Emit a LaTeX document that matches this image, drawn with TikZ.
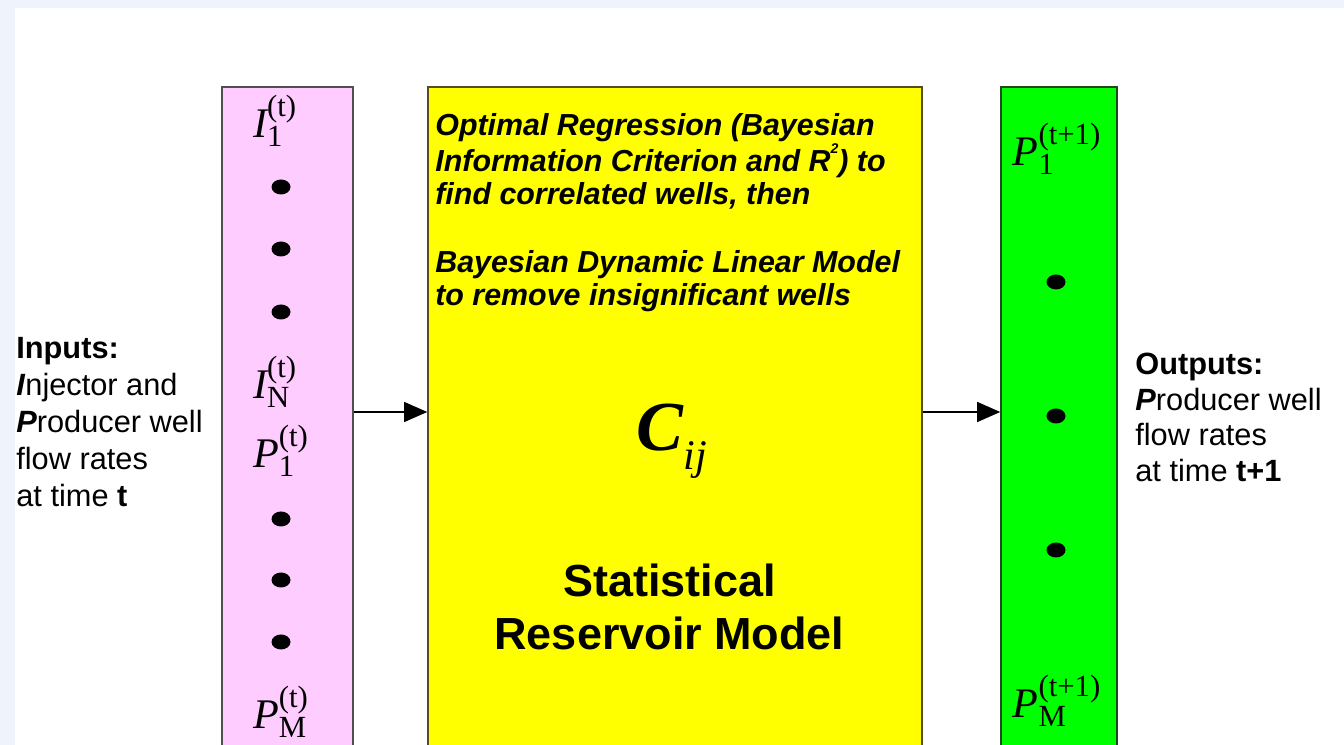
\RequirePackage{fix-cm}
\documentclass[tikz,border=0pt]{standalone}
\usepackage{fontspec}
\setmainfont{Liberation Serif}
\setsansfont{Liberation Sans}
\usetikzlibrary{arrows.meta}

\definecolor{pagebg}{HTML}{EEF3FC}
\definecolor{wellpink}{HTML}{FFCCFF}
\definecolor{pinkedge}{HTML}{505050}
\definecolor{modelyellow}{HTML}{FFFF00}
\definecolor{yellowedge}{HTML}{5A4A20}
\definecolor{wellgreen}{HTML}{00FF00}
\definecolor{greenedge}{HTML}{1E4A1E}

% well rate with index and time step
\newcommand{\wellsym}[3]{$\mathit{#1}_{\mbox{\fontsize{17.5}{18}\selectfont #2}}^{\mbox{\fontsize{17.5}{18}\selectfont (#3)}}$}

\tikzset{
  column/.style={draw, line width=0.9pt, minimum height=13.46cm, inner sep=0pt},
  wellvar/.style={font=\fontsize{24}{26}\selectfont, inner sep=0pt},
  flowarrow/.style={-{Triangle[length=0.46cm,width=0.40cm]}, line width=0.6pt},
  caption/.style={font=\sffamily\fontsize{17.5}{21}\selectfont, align=left,
    anchor=north west, inner sep=0pt}
}

\begin{document}
\begin{tikzpicture}
    \useasboundingbox (0,0) rectangle (26.88,14.9);
    \fill[pagebg] (0,0) rectangle (26.88,14.9);
    \fill[white] (0.30,0) rectangle (26.88,14.74);
    \clip (0,0) rectangle (26.88,14.9);
%
    \node[column, fill=wellpink, draw=pinkedge, minimum width=2.62cm] (inputs) at (5.75,6.43) {};
    \node[column, fill=modelyellow, draw=yellowedge, minimum width=9.88cm] (model) at (13.5,6.43) {};
    \node[column, fill=wellgreen, draw=greenedge, minimum width=2.32cm] (outputs) at (21.18,6.43) {};
%
    \node[wellvar] (injfirst) at (5.50,12.48) {\wellsym{I}{1}{t}};
    \node[wellvar] (injlast) at (5.50,7.26) {\wellsym{I}{N}{t}};
    \node[wellvar] (prodfirst) at (5.62,5.88) {\wellsym{P}{1}{t}};
    \node[wellvar] (prodlast) at (5.62,0.66) {\wellsym{P}{M}{t}};
    \foreach \y in {11.16, 9.92, 8.66, 4.52, 3.30, 2.06}
        \fill (5.62,\y) ellipse (0.19 and 0.15);
%
    \node[wellvar] (nextfirst) at (21.14,11.92) {\wellsym{P}{1}{t+1}};
    \node[wellvar] (nextlast) at (21.14,0.88) {\wellsym{P}{M}{t+1}};
    \foreach \y in {9.26, 6.58, 3.90}
        \fill (21.12,\y) ellipse (0.19 and 0.15);
%
    \node[font=\sffamily\bfseries\itshape\fontsize{17.3}{18.7}\selectfont, align=left,
        anchor=north west, inner sep=0pt] (steps) at (8.70,12.64)
        {Optimal Regression (Bayesian\\
         Information Criterion and R\raisebox{0.6em}{\fontsize{8}{8}\selectfont 2}) to\\
         find correlated wells, then\\[20pt]
         Bayesian Dynamic Linear Model\\
         to remove insignificant wells};
    \node (cij) at (13.44,6.08) {{\fontsize{40}{44}\selectfont\bfseries\itshape C}%
        {\fontsize{24}{26}\selectfont\itshape\raisebox{-0.45em}{ij}}};
    \node[font=\sffamily\bfseries\fontsize{25.6}{30.6}\selectfont, align=center] (title)
        at (13.39,2.76) {Statistical\\ Reservoir Model};
%
    \coordinate (flow) at (0,6.66);
    \draw[flowarrow] (inputs.east |- flow) -- (model.west |- flow);
    \draw[flowarrow] (model.east |- flow) -- (outputs.west |- flow);
%
    \node[caption] (intext) at (0.32,8.16)
        {\textbf{Inputs:}\\ \textbf{\textit{I}}njector and\\ \textbf{\textit{P}}roducer well\\
         flow rates\\ at time \textbf{t}};
    \node[caption, font=\sffamily\fontsize{17.5}{20.2}\selectfont] (outtext) at (22.70,7.84)
        {\textbf{Outputs:}\\ \textbf{\textit{P}}roducer well\\ flow rates\\ at time \textbf{t+1}};
\end{tikzpicture}
\end{document}
